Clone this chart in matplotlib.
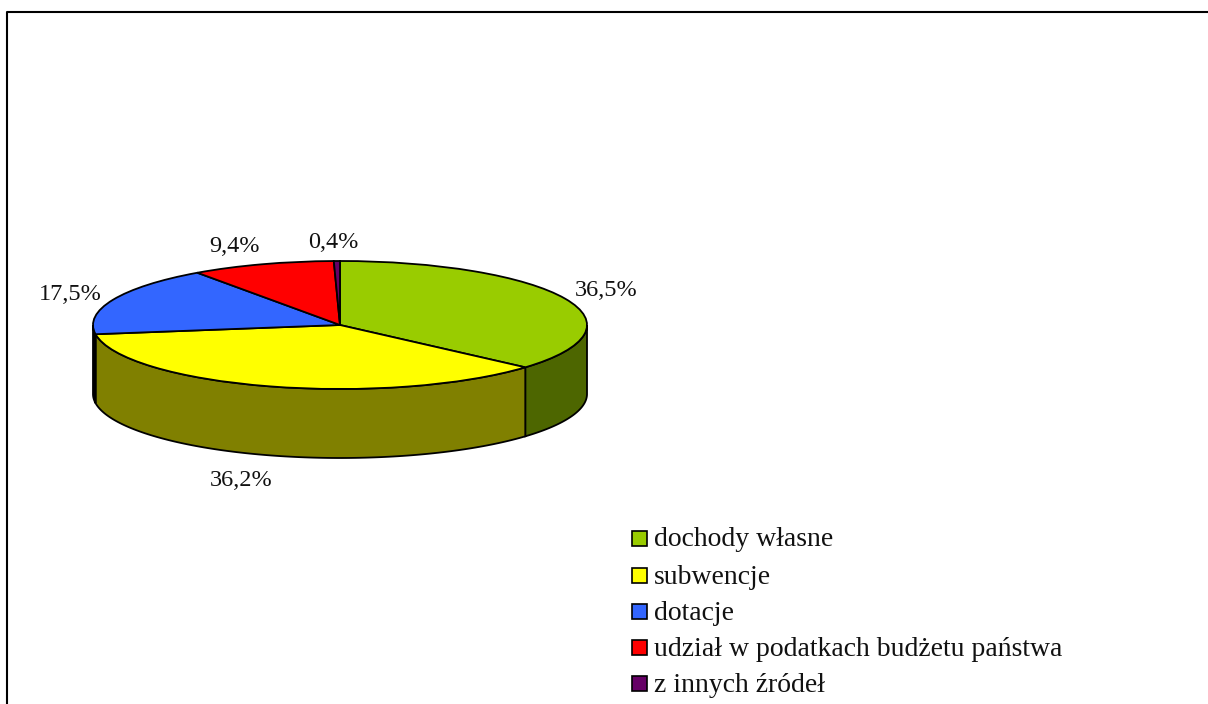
import matplotlib
matplotlib.use("Agg")
import matplotlib.pyplot as plt
import numpy as np
from matplotlib.patches import Rectangle

labels = ["dochody własne", "subwencje", "dotacje",
          "udział w podatkach budżetu państwa", "z innych źródeł"]
values = [36.5, 36.2, 17.5, 9.4, 0.4]
pct_labels = ["36,5%", "36,2%", "17,5%", "9,4%", "0,4%"]
colors = ["#99CC00", "#FFFF00", "#3366FF", "#FF0000", "#660066"]
side_colors = ["#4D6600", "#808000", "#000000", "#800000", "#330033"]

W, H = 1208, 704
plt.rcParams["font.family"] = ["Liberation Serif", "DejaVu Serif"]

fig = plt.figure(figsize=(W / 100, H / 100), dpi=100, facecolor="white")

# full figure overlay in pixel coords, for frame and legend
bg = fig.add_axes([0, 0, 1, 1])
bg.set_xlim(0, W)
bg.set_ylim(H, 0)
bg.axis("off")
bg.plot([7, 7, W], [H, 12, 12], color="black", lw=1.5, solid_capstyle="butt")

# pie axes: 1 data unit = rx px across, ry px up
cx, cy, rx, ry, depth = 340, 325, 247, 64, 69
ax = fig.add_axes([(cx - rx - 10) / W, 1 - (cy + ry + depth + 10) / H,
                   (2 * rx + 20) / W, (2 * ry + depth + 20) / H])
ax.patch.set_alpha(0)

# side wall, only the front half of the ellipse shows
edges = 90 - 3.6 * np.cumsum([0] + values)
d = depth / ry
for i in range(len(values)):
    a1, a0 = edges[i], edges[i + 1]
    lo, hi = max(a0, -180), min(a1, 0)
    if lo >= hi:
        continue
    t = np.radians(np.linspace(lo, hi, 120))
    xs = np.cos(t)
    ys = np.sin(t)
    ax.fill(np.r_[xs, xs[::-1]], np.r_[ys, ys[::-1] - d],
            facecolor=side_colors[i], edgecolor="black", lw=1.3)

ax.pie(values, colors=colors, startangle=90, counterclock=False, radius=1,
       wedgeprops={"edgecolor": "black", "linewidth": 1.3})
ax.set_aspect("auto")
ax.set_xlim(-1 - 10 / rx, 1 + 10 / rx)
ax.set_ylim(-1 - d - 10 / ry, 1 + 10 / ry)

# percent labels
label_pos = [(606, 290), (241, 480), (70, 295), (234, 246), (333, 242)]
for txt, (x, y) in zip(pct_labels, label_pos):
    bg.text(x, y, txt, ha="center", va="center", fontsize=17.5, color="#111111", zorder=5)

# legend
leg_y = [538, 575, 611, 647, 683]
for name, col, y in zip(labels, colors, leg_y):
    bg.add_patch(Rectangle((632, y - 7.5), 15, 15, facecolor=col, edgecolor="black", lw=1.2))
    bg.text(654, y + 2, name, ha="left", va="center", fontsize=20, color="#111111")

fig.savefig("out.png", dpi=100)
